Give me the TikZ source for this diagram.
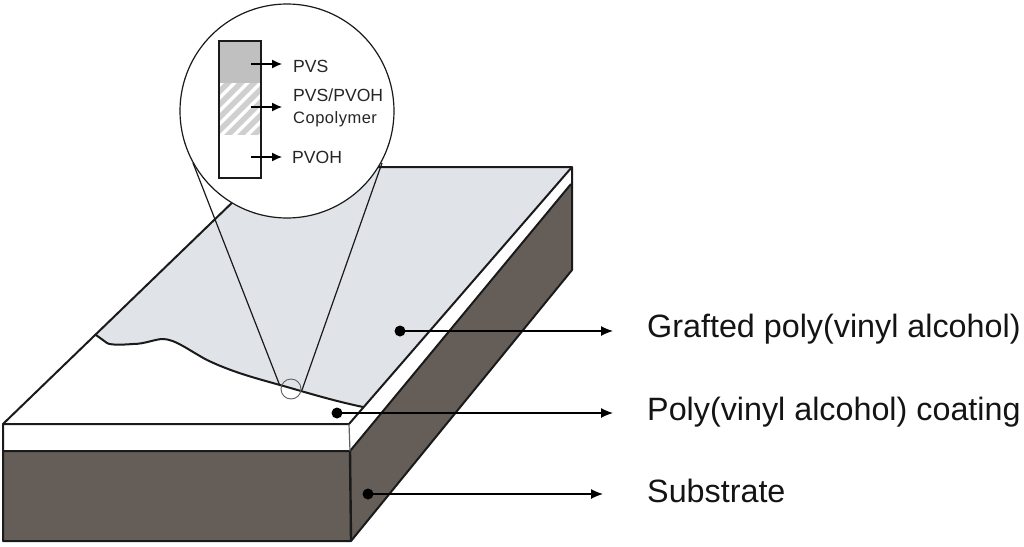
\documentclass[tikz,border=0pt]{standalone}
\usepackage{fontspec}
\setmainfont{Liberation Sans}
\usetikzlibrary{arrows.meta}
\definecolor{substrate}{HTML}{655E58}
\definecolor{graft}{HTML}{E0E3E8}
\definecolor{insetgrey}{HTML}{C0C0C0}
\definecolor{hatchgrey}{HTML}{CFCFCF}
\definecolor{edge}{HTML}{1A1A1A}
\tikzset{
  slabline/.style={draw=edge,line width=2pt,line join=round},
  thinline/.style={draw=edge,line width=1.2pt},
  biglabel/.style={anchor=base west,inner sep=0pt,font=\fontsize{32.3}{34}\selectfont,text=black!92},
  smalllabel/.style={anchor=base west,inner sep=0pt,font=\fontsize{17.6}{18}\selectfont,text=black!85},
  calldot/.style={circle,fill=black,draw=none,minimum size=11pt,inner sep=0pt},
  callout/.style={draw=black,line width=1.2pt,-{Latex[length=12pt,width=10pt]}},
  insetarrow/.style={draw=black,line width=1.2pt,-{Latex[length=10pt,width=9pt]}}
}
\begin{document}
\begin{tikzpicture}[x=1pt,y=-1pt]
\useasboundingbox (0,0) rectangle (1024,546);
% slab
\fill[white] (3,424) -- (269,167) -- (572,167) -- (349,424) -- cycle;
\fill[graft] (96,335) -- (269,167) -- (572,167) -- (363,407)
  .. controls (330,400) and (305,392) .. (280,385)
  .. controls (255,378) and (232,372) .. (207,360)
  .. controls (190,351) and (175,339) .. (163,339)
  .. controls (155,339) and (145,344) .. (133,344)
  .. controls (120,345) and (110,345) .. (107,343)
  -- cycle;
\draw[slabline] (96,335) -- (107,343)
  .. controls (110,345) and (120,345) .. (133,344)
  .. controls (145,344) and (155,339) .. (163,339)
  .. controls (175,339) and (190,351) .. (207,360)
  .. controls (232,372) and (255,378) .. (280,385)
  .. controls (305,392) and (330,400) .. (363,407);
\fill[substrate] (3,451) -- (350,451) -- (351,541) -- (3,541) -- cycle;
\fill[substrate] (350,451) -- (571,184) -- (571,270) -- (351,541) -- cycle;
\draw[slabline] (3,541) -- (3,424) -- (269,167) -- (572,167) -- (572,270) -- (351,541) -- cycle;
\draw[slabline] (3,424) -- (349,424) -- (572,167);
\draw[slabline] (3,451) -- (350,451) -- (571,184);
\draw[thinline,draw=edge!70] (349,424) -- (350,451);
\draw[slabline,line width=2.4pt] (350,451) -- (351,541);
% lens
\node[circle,draw=edge!70,line width=0.9pt,minimum size=20pt,inner sep=0pt] (spot) at (291,389) {};
\coordinate (lensL) at (193,163);
\coordinate (lensR) at (382,163);
\coordinate (spotL) at (280,386);
\coordinate (spotR) at (302,390);
\draw[thinline] (lensL) -- (spotL);
\draw[thinline] (lensR) -- (spotR);
\node[circle,fill=white,draw=edge,line width=1.2pt,minimum size=214pt,inner sep=0pt] (lens) at (287,111) {};
% inset column
\fill[insetgrey] (219,41) rectangle (261,83);
\begin{scope}
\clip (219,83) rectangle (261,134);
\foreach \k in {-5,...,5}
  \draw[hatchgrey,line width=5.5pt] (200+\k*13,150) -- ++(90,-90);
\end{scope}
\node[draw=edge,line width=1.2pt,minimum width=42pt,minimum height=137pt,inner sep=0pt] (column) at (240,109.5) {};
\coordinate (a1) at (251,64);
\coordinate (b1) at (282,64);
\coordinate (a2) at (251,107);
\coordinate (b2) at (282,107);
\coordinate (a3) at (251,157);
\coordinate (b3) at (282,157);
\draw[insetarrow] (a1) -- (b1);
\draw[insetarrow] (a2) -- (b2);
\draw[insetarrow] (a3) -- (b3);
\node[smalllabel] (tpvs) at (293,72) {PVS};
\node[smalllabel] (tmix) at (293,101) {PVS/PVOH};
\node[smalllabel,font=\fontsize{16.5}{18}\selectfont\addfontfeature{LetterSpace=3}] (tcop) at (293,123) {Copolymer};
\node[smalllabel] (tpvoh) at (292,163) {PVOH};
% callouts
\node[calldot] (d1) at (400,331) {};
\node[calldot] (d2) at (337,413) {};
\node[calldot] (d3) at (368,494) {};
\coordinate (e1) at (613,331);
\coordinate (e2) at (613,413);
\coordinate (e3) at (603,494);
\draw[callout] (d1.center) -- (e1);
\draw[callout] (d2.center) -- (e2);
\draw[callout] (d3.center) -- (e3);
\node[biglabel] (l1) at (647,337) {Grafted poly(vinyl alcohol)};
\node[biglabel] (l2) at (647,420) {Poly(vinyl alcohol) coating};
\node[biglabel] (l3) at (647,502) {Substrate};
\end{tikzpicture}
\end{document}
